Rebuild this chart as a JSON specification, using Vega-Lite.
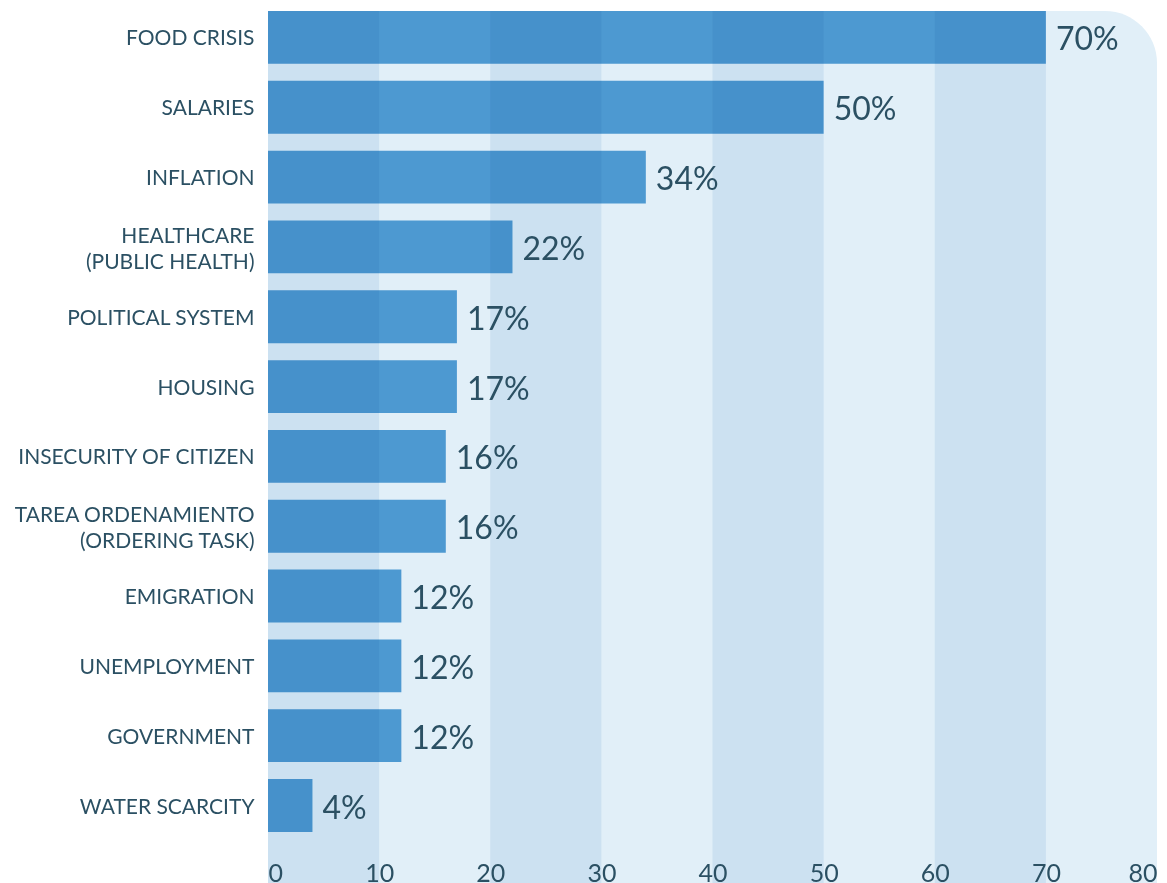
{
  "$schema": "https://vega.github.io/schema/vega-lite/v6.json",
  "width": 889,
  "height": 874,
  "autosize": "none",
  "padding": {"left": 268, "top": 11, "right": 10, "bottom": 0},
  "background": "white",
  "config": {"view": {"stroke": null}, "font": "Lato"},
  "datasets": {
    "issues": [
      {"issue": "FOOD CRISIS", "pct": 70},
      {"issue": "SALARIES", "pct": 50},
      {"issue": "INFLATION", "pct": 34},
      {"issue": "HEALTHCARE|(PUBLIC HEALTH)", "pct": 22},
      {"issue": "POLITICAL SYSTEM", "pct": 17},
      {"issue": "HOUSING", "pct": 17},
      {"issue": "INSECURITY OF CITIZEN", "pct": 16},
      {"issue": "TAREA ORDENAMIENTO|(ORDERING TASK)", "pct": 16},
      {"issue": "EMIGRATION", "pct": 12},
      {"issue": "UNEMPLOYMENT", "pct": 12},
      {"issue": "GOVERNMENT", "pct": 12},
      {"issue": "WATER SCARCITY", "pct": 4}
    ],
    "bands": [
      {"start": 0, "end": 10},
      {"start": 20, "end": 30},
      {"start": 40, "end": 50},
      {"start": 60, "end": 70}
    ],
    "bg": [{"start": 0, "end": 80}]
  },
  "layer": [
    {
      "data": {"name": "bg"},
      "mark": {"type": "rect", "color": "#e1eff8", "cornerRadiusTopRight": 52},
      "encoding": {
        "x": {"field": "start", "type": "quantitative", "scale": {"domain": [0, 80], "nice": false, "zero": true}, "axis": {"title": null, "orient": "bottom", "offset": -4, "zindex": 2, "domain": false, "ticks": false, "grid": false, "labelFlush": true, "labelFontSize": 25, "labelFont": "Lato", "labelFontWeight": "normal", "labelColor": "#2b5063", "labelBaseline": "alphabetic", "labelPadding": 0, "values": [0, 10, 20, 30, 40, 50, 60, 70, 80]}},
        "x2": {"field": "end"}
      }
    },
    {
      "data": {"name": "issues"},
      "mark": {"type": "bar", "color": "#4d99d1"},
      "encoding": {
        "y": {"field": "issue", "type": "nominal", "sort": null, "scale": {"paddingInner": 0.243, "paddingOuter": 0.38, "align": 0}, "axis": {"title": null, "zindex": 2, "domain": false, "ticks": false, "labelPadding": 14, "labelFontSize": 21, "labelFont": "Lato", "labelColor": "#2b5063", "labelLimit": 300, "labelLineHeight": 26, "labelOffset": {"condition": {"test": "indexof(datum.value, '|') >= 0", "value": -10}, "value": 2}, "labelExpr": "split(datum.label, '|')"}},
        "x": {"field": "pct", "type": "quantitative"}
      }
    },
    {
      "data": {"name": "bands"},
      "mark": {"type": "rect", "color": "#e7f1f8", "blend": "multiply"},
      "encoding": {
        "x": {"field": "start", "type": "quantitative"},
        "x2": {"field": "end"}
      }
    },
    {
      "data": {"name": "issues"},
      "mark": {"type": "text", "align": "left", "baseline": "middle", "dx": 10, "dy": 3, "fontSize": 32, "font": "Lato", "color": "#2b5063", "text": {"expr": "datum.pct + '%'"}},
      "encoding": {
        "y": {"field": "issue", "type": "nominal", "sort": null},
        "x": {"field": "pct", "type": "quantitative"}
      }
    }
  ]
}
